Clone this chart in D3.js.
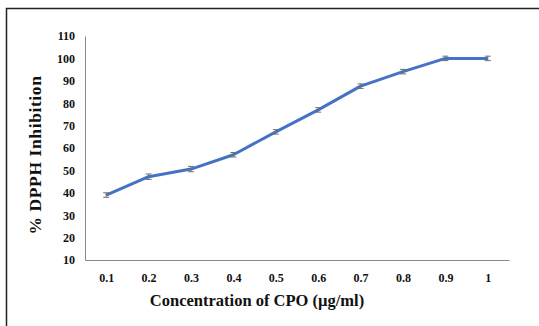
<!DOCTYPE html>
<html>
<head>
<meta charset="utf-8">
<script src="https://cdn.jsdelivr.net/npm/d3@7"></script>
<style>
  body { margin: 0; background: #fff; }
  text { font-family: "Liberation Serif", "Times New Roman", serif; font-weight: bold; fill: #111; }
</style>
</head>
<body>
<svg id="chart" width="539" height="326"></svg>
<script>
const concentrations = ["0.1", "0.2", "0.3", "0.4", "0.5", "0.6", "0.7", "0.8", "0.9", "1"];
const inhibition = [39, 47.2, 50.6, 57, 67.2, 77, 87.6, 94.1, 100, 100];
const errors = [1, 1.2, 1.2, 1, 1, 1, 1, 1, 1, 1];
const yTicks = [10, 20, 30, 40, 50, 60, 70, 80, 90, 100, 110];

const svg = d3.select("#chart");
const margin = { top: 36, right: 30, bottom: 66, left: 85 };
const width = 539 - margin.left - margin.right;
const height = 326 - margin.top - margin.bottom;

// outer frame (top and left edges)
svg.append("path")
    .attr("d", "M6.5,326 V8.5 H539")
    .attr("fill", "none")
    .attr("stroke", "#222")
    .attr("stroke-width", 1.5);

const chart = svg.append("g")
    .attr("transform", `translate(${margin.left},${margin.top})`);

// Scales
const xScale = d3.scalePoint()
    .domain(concentrations)
    .range([0, width])
    .padding(0.5);

const yScale = d3.scaleLinear()
    .domain([10, 110])
    .range([height, 0]);

// Axes
const xAxis = chart.append("g")
    .attr("transform", `translate(0,${height})`)
    .call(d3.axisBottom(xScale).tickSize(0).tickPadding(13));
xAxis.select(".domain").attr("stroke", "#888");

const yAxis = chart.append("g")
    .call(d3.axisLeft(yScale).tickValues(yTicks).tickSize(0).tickPadding(10));
yAxis.select(".domain").attr("stroke", "#888");

chart.selectAll(".tick text")
    .attr("font-family", null)
    .attr("font-size", null)
    .style("font-size", "12px");
xAxis.attr("font-size", null).attr("font-family", null);
yAxis.attr("font-size", null).attr("font-family", null);

// Line
const line = d3.line()
    .x((d, i) => xScale(concentrations[i]))
    .y(d => yScale(d));

chart.append("path")
    .datum(inhibition)
    .attr("fill", "none")
    .attr("stroke", "#4472c4")
    .attr("stroke-width", 3)
    .attr("stroke-linejoin", "round")
    .attr("d", line);

// Error bars
const eb = chart.selectAll(".err")
    .data(inhibition)
    .enter().append("g")
    .attr("class", "err")
    .attr("stroke", "#6f6f6f")
    .attr("stroke-width", 1);

eb.append("line")
    .attr("x1", (d, i) => xScale(concentrations[i]))
    .attr("x2", (d, i) => xScale(concentrations[i]))
    .attr("y1", (d, i) => yScale(d + errors[i]))
    .attr("y2", (d, i) => yScale(d - errors[i]));
eb.append("line")
    .attr("x1", (d, i) => xScale(concentrations[i]) - 3)
    .attr("x2", (d, i) => xScale(concentrations[i]) + 3)
    .attr("y1", (d, i) => yScale(d + errors[i]))
    .attr("y2", (d, i) => yScale(d + errors[i]));
eb.append("line")
    .attr("x1", (d, i) => xScale(concentrations[i]) - 3)
    .attr("x2", (d, i) => xScale(concentrations[i]) + 3)
    .attr("y1", (d, i) => yScale(d - errors[i]))
    .attr("y2", (d, i) => yScale(d - errors[i]));

// Axis titles
svg.append("text")
    .attr("x", 257)
    .attr("y", 306)
    .style("text-anchor", "middle")
    .style("font-size", "16.5px")
    .text("Concentration of CPO (µg/ml)");

svg.append("text")
    .attr("transform", "rotate(-90)")
    .attr("x", -155)
    .attr("y", 41)
    .style("text-anchor", "middle")
    .style("font-size", "17.5px")
    .style("letter-spacing", "0.6px")
    .text("% DPPH Inhibition");
</script>
</body>
</html>
